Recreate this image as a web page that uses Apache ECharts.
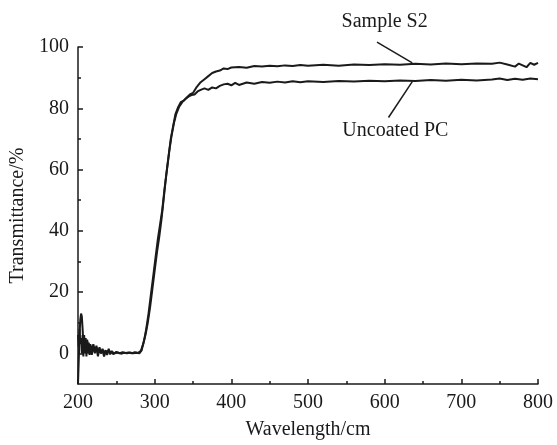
<!DOCTYPE html>
<html>
    <head>
        <meta charset="UTF-8">
        <title></title>
        <script src="https://cdn.jsdelivr.net/npm/echarts@6/dist/echarts.min.js"></script>
        <style>
            body { margin: 0; background: #fff; }
            #main { width: 557px; height: 445px; }
        </style>
    </head>
    <body>
        <div id="main"></div>
        <script>
            // Sample S2
            var s2Wave = [200, 201, 202, 203, 204, 205, 206, 207, 208, 209, 210, 211, 212, 213, 214, 215, 216, 218, 220, 222, 224, 226, 228, 230, 232, 234, 236, 238, 240, 242, 244, 246, 250, 254, 258, 262, 266, 270, 274, 278, 282, 285, 288, 291, 294, 297, 300, 303, 306, 309, 312, 315, 318, 321, 324, 327, 330, 334, 338, 342, 346, 350, 355, 360, 365, 370, 375, 380, 385, 390, 395, 400, 410, 420, 430, 440, 450, 460, 470, 480, 490, 500, 520, 540, 560, 580, 600, 620, 640, 660, 680, 700, 720, 740, 750, 760, 770, 775, 780, 785, 790, 795, 800];
            var s2Value = [-10, -2, 6, 11, 13, 12, 8, 3, 6, 1, 5, 0, 4, 0.5, 3.5, 0, 3, 1, 3, 0.5, 2.5, 0, 2, 0, 1.5, 0, 1, -0.5, 1.5, 0, 0.8, -0.3, 0.5, 0, 0.4, 0.1, 0.3, 0, 0.4, 0.1, 0.8, 3, 6, 10, 15, 21, 27, 33, 38, 44, 51, 58, 64, 70, 74, 78, 80, 82, 82.5, 83.5, 84.5, 85, 87, 88.5, 89.5, 90.5, 91.5, 92, 92.3, 93, 92.8, 93.3, 93.5, 93.2, 93.8, 93.6, 93.9, 93.7, 94, 93.8, 94.1, 93.9, 94.2, 93.9, 94.3, 94.1, 94.4, 94.2, 94.5, 94.3, 94.6, 94.4, 94.6, 94.5, 94.9, 94.3, 93.6, 94.6, 94, 93.4, 94.8, 94.2, 94.8];

            // Uncoated PC
            var pcWave = [200, 201, 202, 203, 204, 205, 206, 207, 208, 209, 210, 211, 212, 213, 214, 215, 216, 218, 220, 222, 224, 226, 228, 230, 232, 234, 236, 238, 240, 242, 244, 248, 252, 256, 260, 264, 268, 272, 276, 280, 283, 286, 289, 292, 295, 298, 301, 304, 307, 310, 313, 316, 319, 322, 325, 328, 332, 336, 340, 344, 348, 352, 356, 360, 365, 370, 375, 380, 385, 390, 395, 400, 405, 410, 420, 430, 440, 450, 460, 470, 480, 490, 500, 520, 540, 560, 580, 600, 620, 640, 660, 680, 700, 720, 740, 750, 760, 770, 780, 790, 800];
            var pcValue = [6, 2, 8, 3, 5, 0, 6, -1, 5, 0, 4, -1, 4.5, 0, 3, -0.5, 2.5, -0.5, 2.5, 0, 2, -1, 1.5, 0, 1, -1, 0.5, 0, 0.8, -0.3, 0.5, 0, 0.3, -0.1, 0.2, 0, 0.3, 0, 0.2, 0, 1, 4, 8, 13, 19, 25, 31, 37, 42, 47, 54, 60, 66, 71, 75, 78, 80.5, 82, 83, 83.8, 84.3, 84.5, 85.5, 86, 86.5, 86, 86.8, 86.5, 87.3, 87.8, 88, 87.5, 88.3, 87.6, 88.4, 88, 88.6, 88.3, 88.7, 88.4, 88.8, 88.5, 88.8, 88.6, 88.9, 88.7, 89, 88.8, 89.1, 88.9, 89.2, 89, 89.3, 89.1, 89.4, 89.7, 89.2, 89.6, 89.3, 89.7, 89.5];

            var yMajor = [0, 20, 40, 60, 80, 100];
            var yMinor = [10, 30, 50, 70, 90];

            // annotation: label text, label anchor, line start, line end (data coords)
            var notes = [
                { text: 'Sample S2', at: [600, 108.4], from: [590, 101.6], to: [636, 94.8] },
                { text: 'Uncoated PC', at: [614, 72.6], from: [605, 77], to: [636, 88.7] }
            ];

            function pairs(xs, ys) {
                return xs.map(function (x, i) { return [x, ys[i]]; });
            }

            var font = '"Liberation Serif", "Times New Roman", serif';
            var ink = '#1a1a1a';

            var chart = echarts.init(document.getElementById('main'));
            chart.setOption({
                animation: false,
                grid: { left: 77, right: 19, top: 47, bottom: 55 },
                xAxis: {
                    type: 'value',
                    min: 200,
                    max: 800,
                    interval: 100,
                    name: 'Wavelength/cm',
                    nameLocation: 'middle',
                    nameGap: 36,
                    nameTextStyle: { fontFamily: font, fontSize: 20, color: ink },
                    axisLine: { onZero: false, lineStyle: { color: ink, width: 1.5 } },
                    axisTick: { inside: true, length: 5, lineStyle: { color: ink, width: 1.5 } },
                    minorTick: { show: true, splitNumber: 2, length: 3, lineStyle: { color: ink, width: 1.5 } },
                    axisLabel: { fontFamily: font, fontSize: 20, color: ink, margin: 9 },
                    splitLine: { show: false }
                },
                yAxis: [{
                    type: 'value',
                    min: -10,
                    max: 100,
                    interval: 10,
                    name: 'Transmittance/%',
                    nameLocation: 'middle',
                    nameGap: 50,
                    nameTextStyle: { fontFamily: font, fontSize: 20, color: ink },
                    axisLine: { show: true, onZero: false, lineStyle: { color: ink, width: 1.5 } },
                    axisTick: { show: true, inside: true, length: 5, customValues: yMajor, lineStyle: { color: ink, width: 1.5 } },
                    axisLabel: { fontFamily: font, fontSize: 20, color: ink, margin: 9, customValues: yMajor },
                    splitLine: { show: false }
                }, {
                    type: 'value',
                    position: 'left',
                    min: -10,
                    max: 100,
                    interval: 10,
                    axisLine: { show: false, onZero: false },
                    axisTick: { show: true, inside: true, length: 3, customValues: yMinor, lineStyle: { color: ink, width: 1.5 } },
                    axisLabel: { show: false },
                    splitLine: { show: false }
                }],
                series: [{
                    name: 'Sample S2',
                    type: 'line',
                    data: pairs(s2Wave, s2Value),
                    showSymbol: false,
                    lineStyle: { color: ink, width: 2 }
                }, {
                    name: 'Uncoated PC',
                    type: 'line',
                    data: pairs(pcWave, pcValue),
                    showSymbol: false,
                    lineStyle: { color: ink, width: 2 }
                }]
            });

            var g = [];
            notes.forEach(function (n) {
                var a = chart.convertToPixel({ gridIndex: 0 }, n.at);
                var p1 = chart.convertToPixel({ gridIndex: 0 }, n.from);
                var p2 = chart.convertToPixel({ gridIndex: 0 }, n.to);
                g.push({
                    type: 'text',
                    x: a[0], y: a[1],
                    style: { text: n.text, font: '20px ' + font, fill: ink, align: 'center', verticalAlign: 'middle' }
                });
                g.push({
                    type: 'line',
                    shape: { x1: p1[0], y1: p1[1], x2: p2[0], y2: p2[1] },
                    style: { stroke: ink, lineWidth: 1.5 }
                });
            });
            chart.setOption({ graphic: g });
        </script>
    </body>
</html>
